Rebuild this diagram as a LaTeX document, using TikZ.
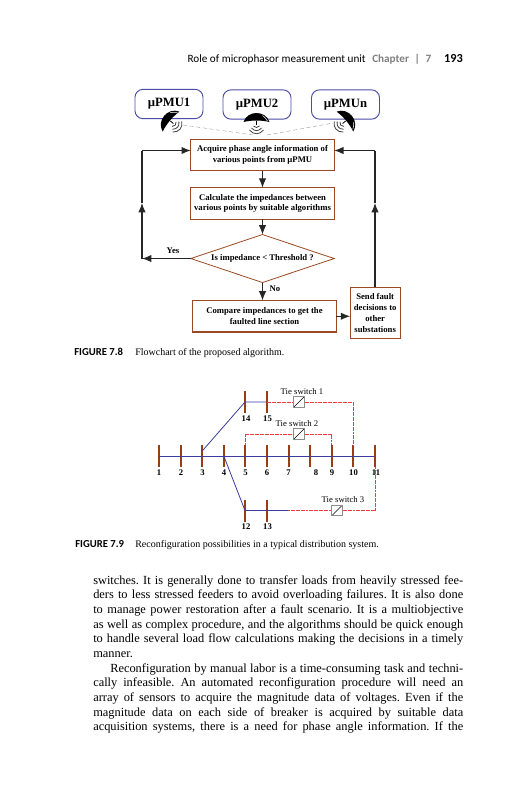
\documentclass[tikz,border=0pt]{standalone}
\usepackage{fontspec}
\setmainfont{Liberation Serif}
\newfontfamily\headfont{Carlito}
\usetikzlibrary{positioning}
\usetikzlibrary{calc}
\usetikzlibrary{arrows.meta}
\usetikzlibrary{shapes.geometric}
\definecolor{boxbrown}{HTML}{9A4A22}
\definecolor{busbrown}{HTML}{9A3D12}
\definecolor{feederblue}{HTML}{3C3C9E}
\definecolor{tiered}{HTML}{F03C40}
\definecolor{pmublue}{HTML}{4C4CA6}
\newcommand{\bodyline}[1]{\makebox[277.5pt][s]{\spaceskip=0pt\xspaceskip=0pt\frenchspacing #1}\\}
\tikzset{
    pmubox/.style={draw=pmublue, line width=0.7pt, rounded corners=6pt, fill=white, minimum width=51pt, minimum height=22pt, inner sep=0pt, font=\fontsize{9.5}{10}\selectfont\bfseries},
    stepbox/.style={draw=boxbrown, line width=0.8pt, fill=white, outer sep=0pt, minimum width=107.5pt, minimum height=23.6pt, inner sep=0pt, align=center, font=\fontsize{6.5}{8.2}\selectfont\bfseries},
    decisionbox/.style={draw=boxbrown, line width=0.6pt, outer sep=0pt, diamond, aspect=3, minimum width=107.5pt, minimum height=36pt, inner sep=0pt, font=\fontsize{6.5}{8}\selectfont\bfseries},
    flow/.style={line width=0.8pt, draw=black!85, -{Latex[length=7pt,width=5.5pt]}},
    plainflow/.style={line width=0.8pt, draw=black!85},
    bus/.style={fill=busbrown, draw=none, outer sep=0pt, minimum width=1.5pt, minimum height=16.5pt, inner sep=0pt},
    feeder/.style={draw=feederblue, line width=0.6pt},
    tie/.style={draw=tiered, line width=0.6pt, dash pattern=on 1.5pt off 0.4pt},
    tiebox/.style={draw=black!45, line width=0.8pt, fill=white, minimum size=8pt, inner sep=0pt, path picture={\draw[black, line width=0.3pt] (path picture bounding box.south west) -- (path picture bounding box.north east);}},
    busnum/.style={inner sep=0pt, font=\fontsize{6.5}{7}\selectfont\bfseries},
    tielabel/.style={inner sep=0pt, font=\fontsize{6.5}{7}\selectfont},
    caption/.style={anchor=base west, inner sep=0pt, font=\fontsize{7.5}{8}\selectfont},
    captag/.style={anchor=base west, inner sep=0pt, font=\headfont\fontsize{8}{8}\selectfont\bfseries},
    dish/.pic={
        \fill[black] (-13,4) .. controls (-9,-8) and (9,-8) .. (13,4) .. controls (5,2) and (-5,2) .. (-13,4) -- cycle;
        \draw[white, line width=0.4pt] (6,-2.5) .. controls (8,-1) and (10,1) .. (11,3);
        \draw[black, line width=0.6pt] (0,3) -- (0,7);
        \draw[black!75, line width=0.6pt] (-3,8) .. controls (-1,10) and (1,10) .. (3,8);
        \draw[black!75, line width=0.6pt] (-5,10) .. controls (-2,13.5) and (2,13.5) .. (5,10);
        \draw[black!75, line width=0.6pt] (-7,12) .. controls (-3,17) and (3,17) .. (7,12);
    }
}

\begin{document}
\begin{tikzpicture}[x=0.75pt, y=-0.75pt]
    \useasboundingbox[fill=white] (0,0) rectangle (531,800);

    % page head
    \node[anchor=base east, inner sep=0pt, font=\headfont\fontsize{8.4}{10}\selectfont] (head) at (366,62) {Role of microphasor measurement unit};
    \node[anchor=base west, inner sep=0pt, text=black!50, font=\headfont\fontsize{8.4}{10}\selectfont\bfseries] (chap) at (372,62) {Chapter\enspace|\enspace7};
    \node[anchor=base east, inner sep=0pt, font=\headfont\fontsize{9.2}{10}\selectfont\bfseries] (folio) at (463,62) {193};

    % flowchart
    \node[pmubox] (pmu1) at (169,104) {µPMU1};
    \node[pmubox] (pmu2) at (257,104.5) {µPMU2};
    \node[pmubox] (pmun) at (345.5,104.5) {µPMUn};

    \node[stepbox] (acquire) at (262.5,155) {Acquire phase angle information of\\various points from µPMU};
    \node[stepbox, below=12.75pt of acquire] (calc) {Calculate the impedances between\\various points by suitable algorithms};
    \node[decisionbox, below=11.5pt of calc] (decide) {Is impedance < Threshold ?};
    \node[stepbox, below=13.5pt of decide, xshift=1.5pt] (compare) {Compare impedances to get the\\faulted line section};
    \node[stepbox, minimum width=37.5pt, minimum height=38pt, right=10.5pt of compare, yshift=2.6pt] (send) {Send fault\\decisions to\\other\\substations};

    \coordinate (w1) at (183,125);
    \coordinate (w2) at (253,135);
    \coordinate (w3) at (267,135);
    \coordinate (wn) at (333,123);
    \draw[black!40, line width=0.3pt, densely dashed] (w1) -- (w2);
    \draw[black!40, line width=0.3pt, densely dashed] (w3) -- (wn);

    \pic[rotate=50] at (168,119) {dish};
    \pic at (256.5,118) {dish};
    \pic[rotate=-50] at (348,119) {dish};

    \coordinate (yestop) at (142,150.5);
    \coordinate (yesup) at (142,203);
    \coordinate (yesturn) at (decide.west -| yestop);
    \coordinate (sendup) at (375,203);
    \coordinate (sendtop) at (375,150.5);

    \draw[flow] (acquire) -- (calc);
    \draw[flow] (calc) -- (decide);
    \draw[flow] (decide.west) -- (yesturn);
    \draw[flow] (yesturn) -- (yesup);
    \draw[plainflow] (yesup) -- (yestop);
    \draw[flow] (yestop) -- (yestop -| acquire.west);
    \draw[flow] (decide.south) -- (decide.south |- compare.north);
    \draw[flow] (compare.east) -- (compare.east -| send.west);
    \draw[flow] (send.north -| sendup) -- (sendup);
    \draw[plainflow] (sendup) -- (sendtop);
    \draw[flow] (sendtop) -- (sendtop -| acquire.east);

    \node[busnum, anchor=center] (yes) at (173,251) {Yes};
    \node[busnum, anchor=center] (no) at (275,289) {No};

    \node[captag] (fig8) at (74,355) {FIGURE 7.8};
    \node[caption] (cap8) at (135,355) {Flowchart of the proposed algorithm.};

    % distribution system
    \node[bus] (b1) at (159,456) {};
    \node[bus, right=14.7pt of b1] (b2) {};
    \node[bus, right=14.7pt of b2] (b3) {};
    \node[bus, right=14.7pt of b3] (b4) {};
    \node[bus, right=14.7pt of b4] (b5) {};
    \node[bus, right=14.7pt of b5] (b6) {};
    \node[bus, right=14.7pt of b6] (b7) {};
    \node[bus, right=14.7pt of b7] (b8) {};
    \node[bus, right=14.7pt of b8] (b9) {};
    \node[bus, right=14.7pt of b9] (b10) {};
    \node[bus, right=14.7pt of b10] (b11) {};
    \node[bus] (b14) at (245,402) {};
    \node[bus, right=14.7pt of b14] (b15) {};
    \node[bus] (b12) at (245,510.5) {};
    \node[bus, right=14.7pt of b12] (b13) {};

    \node[tiebox] (ts1) at (299,402) {};
    \node[tiebox] (ts2) at (299,434) {};
    \node[tiebox] (ts3) at (337,510.5) {};
    \coordinate[right=15.5pt of b13] (tiestart);

    \draw[tie] (b15.center) -- (ts1) -| (b10.north);
    \draw[tie] (b5.north) |- (ts2) -| (b9.north);
    \draw[tie] (tiestart) -- (ts3) -| (b11.south);

    \draw[feeder] (b1.center) -- (b11.center);
    \draw[feeder] ([yshift=3.75pt]b3.center) -- (b14.center) -- (b15.center);
    \draw[feeder] (b4.center) -- (b12.center) -- (tiestart);

    \node[tielabel] (tl1) at (302,392) {Tie switch 1};
    \node[tielabel] (tl2) at (297,424) {Tie switch 2};
    \node[tielabel] (tl3) at (343,500) {Tie switch 3};

    \node[busnum] (n1) at (159,473) {1};
    \node[busnum] (n2) at (181,473) {2};
    \node[busnum] (n3) at (202.5,473) {3};
    \node[busnum] (n4) at (224,473) {4};
    \node[busnum] (n5) at (245.5,473) {5};
    \node[busnum] (n6) at (267,473) {6};
    \node[busnum] (n7) at (288.5,473) {7};
    \node[busnum] (n8) at (316,473) {8};
    \node[busnum] (n9) at (332,473) {9};
    \node[busnum] (n10) at (353.5,473) {10};
    \node[busnum] (n11) at (376,473) {11};
    \node[busnum] (n14) at (246,419) {14};
    \node[busnum] (n15) at (267.5,419) {15};
    \node[busnum] (n12) at (246,527) {12};
    \node[busnum] (n13) at (267.5,527) {13};

    \node[captag] (fig9) at (75,547) {FIGURE 7.9};
    \node[caption] (cap9) at (135,547) {Reconfiguration possibilities in a typical distribution system.};

    % running text
    \node[anchor=north west, inner sep=0pt, text width=277.5pt, align=left, font=\fontsize{9.3}{11}\selectfont] (body) at (93,575) {%
    \bodyline{switches. It is generally done to transfer loads from heavily stressed fee-}
    \bodyline{ders to less stressed feeders to avoid overloading failures. It is also done}
    \bodyline{to manage power restoration after a fault scenario. It is a multiobjective}
    \bodyline{as well as complex procedure, and the algorithms should be quick enough}
    \bodyline{to handle several load flow calculations making the decisions in a timely}
    manner.\\
    \bodyline{\hspace*{12.75pt}Reconfiguration by manual labor is a time-consuming task and techni-}
    \bodyline{cally infeasible. An automated reconfiguration procedure will need an}
    \bodyline{array of sensors to acquire the magnitude data of voltages. Even if the}
    \bodyline{magnitude data on each side of breaker is acquired by suitable data}
    \makebox[277.5pt][s]{\spaceskip=0pt\xspaceskip=0pt\frenchspacing acquisition systems, there is a need for phase angle information. If the}};
\end{tikzpicture}
\end{document}
